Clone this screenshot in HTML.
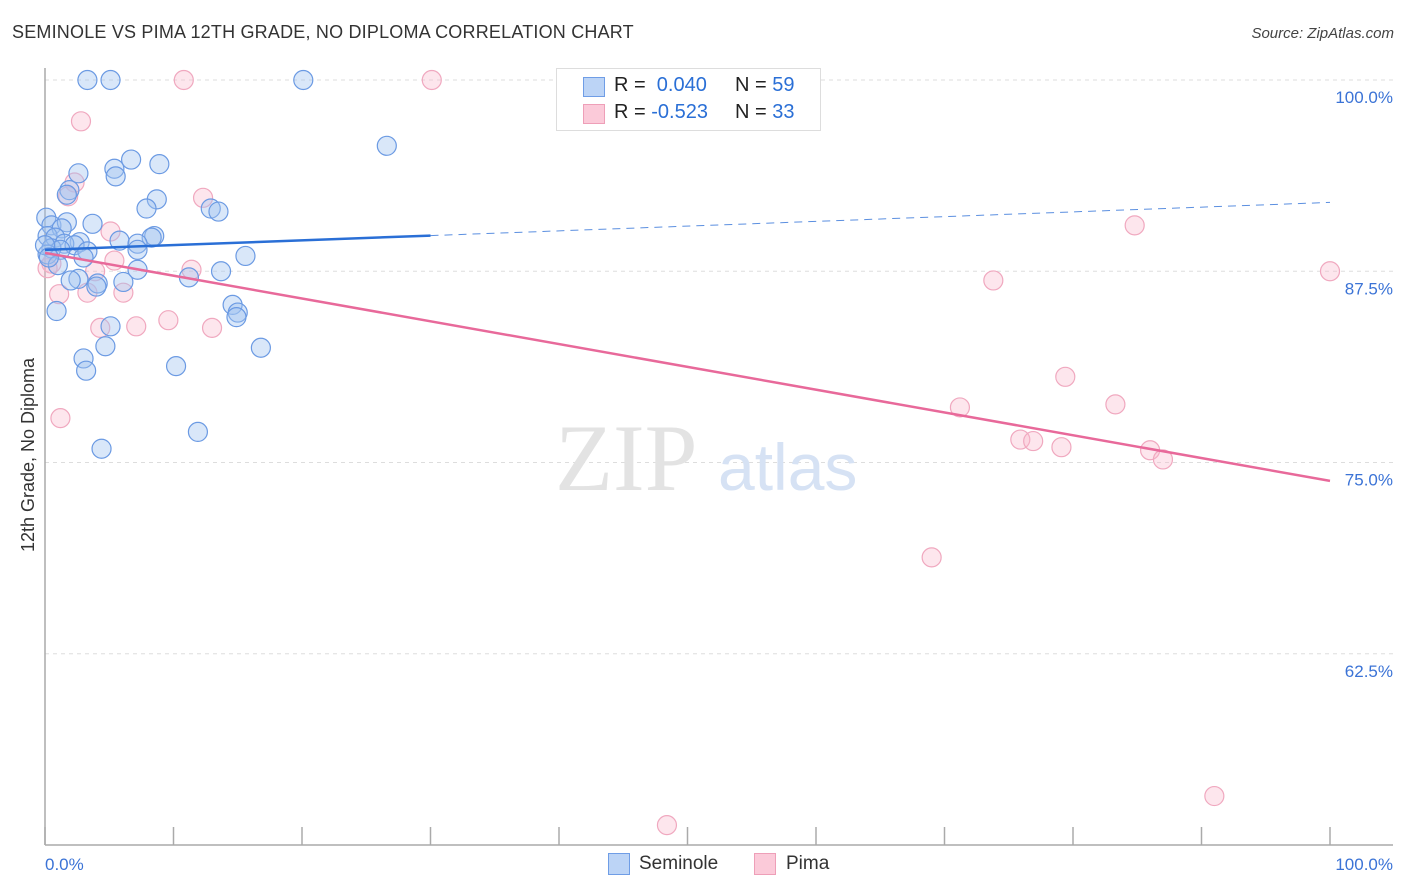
<!DOCTYPE html>
<html><head><meta charset="utf-8">
<style>
body{margin:0;background:#fff;font-family:"Liberation Sans",sans-serif;}
#wrap{position:relative;width:1406px;height:892px;overflow:hidden;}
.t{position:absolute;white-space:nowrap;}
</style></head>
<body>
<div id="wrap">
<div class="t" style="left:12px;top:22px;font-size:18px;color:#333;letter-spacing:0.2px">SEMINOLE VS PIMA 12TH GRADE, NO DIPLOMA CORRELATION CHART</div>
<div class="t" style="right:12px;top:25px;font-size:15px;color:#444;font-style:italic">Source: ZipAtlas.com</div>
<svg id="svg" width="1406" height="892" style="position:absolute;left:0;top:0"></svg>
</div>
<script>
const blueX=[3.3,5.1,20.1,26.6,6.7,8.9,5.4,5.5,2.6,1.9,1.7,8.7,7.9,12.9,13.5,0.1,0.5,1.7,3.7,1.3,0.2,0.8,5.8,8.5,8.3,7.2,2.7,1.5,2.3,0.5,1.2,3.3,7.2,15.6,0.2,1.0,3.0,7.2,13.7,11.2,2.6,2.0,4.1,4.0,6.1,0.9,14.6,15.0,14.9,5.1,4.7,16.8,3.0,3.2,10.2,11.9,4.4,0.0,0.3];
const blueY=[100,100,100,95.7,94.8,94.5,94.2,93.7,93.9,92.8,92.5,92.2,91.6,91.6,91.4,91.0,90.5,90.7,90.6,90.3,89.8,89.7,89.5,89.8,89.7,89.3,89.4,89.3,89.2,89.0,88.9,88.8,88.9,88.5,88.6,87.9,88.4,87.6,87.5,87.1,87.0,86.9,86.7,86.5,86.8,84.9,85.3,84.8,84.5,83.9,82.6,82.5,81.8,81.0,81.3,77.0,75.9,89.2,88.4];
const pinkX=[10.8,30.1,2.8,2.3,1.8,12.3,5.1,84.8,5.4,0.5,0.2,3.9,11.4,100,73.8,3.3,6.1,1.1,4.3,7.1,9.6,13.0,79.4,71.2,83.3,75.9,76.9,79.1,86.0,87.0,1.2,69.0,91.0,48.4];
const pinkY=[100,100,97.3,93.3,92.4,92.3,90.1,90.5,88.2,88.0,87.7,87.5,87.6,87.5,86.9,86.1,86.1,86.0,83.8,83.9,84.3,83.8,80.6,78.6,78.8,76.5,76.4,76.0,75.8,75.2,77.9,68.8,53.2,51.3];
const blueTrend=[88.9,92.0];
const pinkTrend=[88.7,73.8];
const yTicks=[100,87.5,75,62.5];
const yTickLabels=["100.0%","87.5%","75.0%","62.5%"];
const xTicks=[0,10,20,30,40,50,60,70,80,90,100];

const X0=45,X1=1330,Y0=845,Y1=80;
const sx=v=>X0+(v/100)*(X1-X0);
const sy=v=>Y0-((v-50)/50)*(Y0-Y1);
const svg=document.getElementById('svg');
const NS='http://www.w3.org/2000/svg';
function mk(tag,attrs,parent){const e=document.createElementNS(NS,tag);for(const k in attrs)e.setAttribute(k,attrs[k]);(parent||svg).appendChild(e);return e;}

yTicks.forEach((v,i)=>{
  const g=mk('line',{x1:X0,x2:1393,y1:sy(v),y2:sy(v),stroke:'#ddd','stroke-dasharray':'4,4','stroke-width':1});
  
  
  const t=mk('text',{x:1393,y:sy(v)+23,'text-anchor':'end','font-size':17,fill:'#3b73d6','font-family':'Liberation Sans, sans-serif'});
  t.textContent=yTickLabels[i];
  
  
});
const ya=mk('line',{x1:X0,x2:X0,y1:68,y2:Y0,stroke:'#aaa','stroke-width':1.5});


const xa=mk('line',{x1:X0,x2:1393,y1:Y0,y2:Y0,stroke:'#aaa','stroke-width':1.5});


xTicks.forEach(v=>{
  const t=mk('line',{x1:sx(v),x2:sx(v),y1:827,y2:Y0,stroke:'#aaa','stroke-width':1.5});
  
  
});
const wm=mk('text',{x:555,y:490,'font-size':95,fill:'#e3e3e3','font-family':'Liberation Serif, serif'});
wm.textContent='ZIP';


const wm2=mk('text',{x:718,y:490,'font-size':66,fill:'#d6e2f4','font-family':'Liberation Sans, sans-serif'});
wm2.textContent='atlas';



pinkX.forEach((x,i)=>{
  const c=mk('circle',{cx:sx(x),cy:sy(pinkY[i]),r:9.5,fill:'rgba(248,182,204,0.35)',stroke:'#f0a8bf','stroke-width':1.2});
  
  
});
blueX.forEach((x,i)=>{
  const c=mk('circle',{cx:sx(x),cy:sy(blueY[i]),r:9.5,fill:'rgba(160,196,240,0.4)',stroke:'#6b9ae3','stroke-width':1.2});
  
  
});
const bsolidEnd=30;
const b1=mk('line',{x1:sx(0),y1:sy(blueTrend[0]),x2:sx(bsolidEnd),y2:sy(blueTrend[0]+(blueTrend[1]-blueTrend[0])*bsolidEnd/100),stroke:'#2a6fd6','stroke-width':2.5});


const b2=mk('line',{x1:sx(bsolidEnd),y1:sy(blueTrend[0]+(blueTrend[1]-blueTrend[0])*bsolidEnd/100),x2:sx(100),y2:sy(blueTrend[1]),stroke:'#5b8fe0','stroke-width':1,'stroke-dasharray':'8,6'});


const p1=mk('line',{x1:sx(0),y1:sy(pinkTrend[0]),x2:sx(100),y2:sy(pinkTrend[1]),stroke:'#e8699a','stroke-width':2.5});



const yl=mk('text',{x:0,y:0,transform:'translate(34,455) rotate(-90)','text-anchor':'middle','font-size':18,fill:'#333','font-family':'Liberation Sans, sans-serif'});
yl.textContent='12th Grade, No Diploma';


const xl0=mk('text',{x:45,y:870,'font-size':17,fill:'#3b73d6','font-family':'Liberation Sans, sans-serif'});
xl0.textContent='0.0%';


const xl1=mk('text',{x:1393,y:870,'text-anchor':'end','font-size':17,fill:'#3b73d6','font-family':'Liberation Sans, sans-serif'});
xl1.textContent='100.0%';


</script>

<div style="position:absolute;left:556px;top:68px;width:263px;height:61px;border:1px solid #ddd;background:#fff;font-size:20px;color:#222">
  <div style="position:absolute;left:26px;top:8px;width:20px;height:18px;background:#bcd4f6;border:1px solid #6f9de6"></div>
  <div class="t" style="left:57px;top:5px">R = <span style="color:#2a6fd6">&nbsp;0.040</span></div>
  <div class="t" style="left:178px;top:5px">N = <span style="color:#2a6fd6">59</span></div>
  <div style="position:absolute;left:26px;top:35px;width:20px;height:18px;background:#fbcad9;border:1px solid #ee9fb8"></div>
  <div class="t" style="left:57px;top:32px">R = <span style="color:#2a6fd6">-0.523</span></div>
  <div class="t" style="left:178px;top:32px">N = <span style="color:#2a6fd6">33</span></div>
</div>
<div style="position:absolute;left:0;top:852px;width:1406px;font-size:19px;color:#333">
  <div style="position:absolute;left:608px;top:1px;width:20px;height:20px;background:#bcd4f6;border:1px solid #6f9de6"></div>
  <div class="t" style="left:639px;top:1px">Seminole</div>
  <div style="position:absolute;left:754px;top:1px;width:20px;height:20px;background:#fbcad9;border:1px solid #ee9fb8"></div>
  <div class="t" style="left:786px;top:1px">Pima</div>
</div>
</body></html>
